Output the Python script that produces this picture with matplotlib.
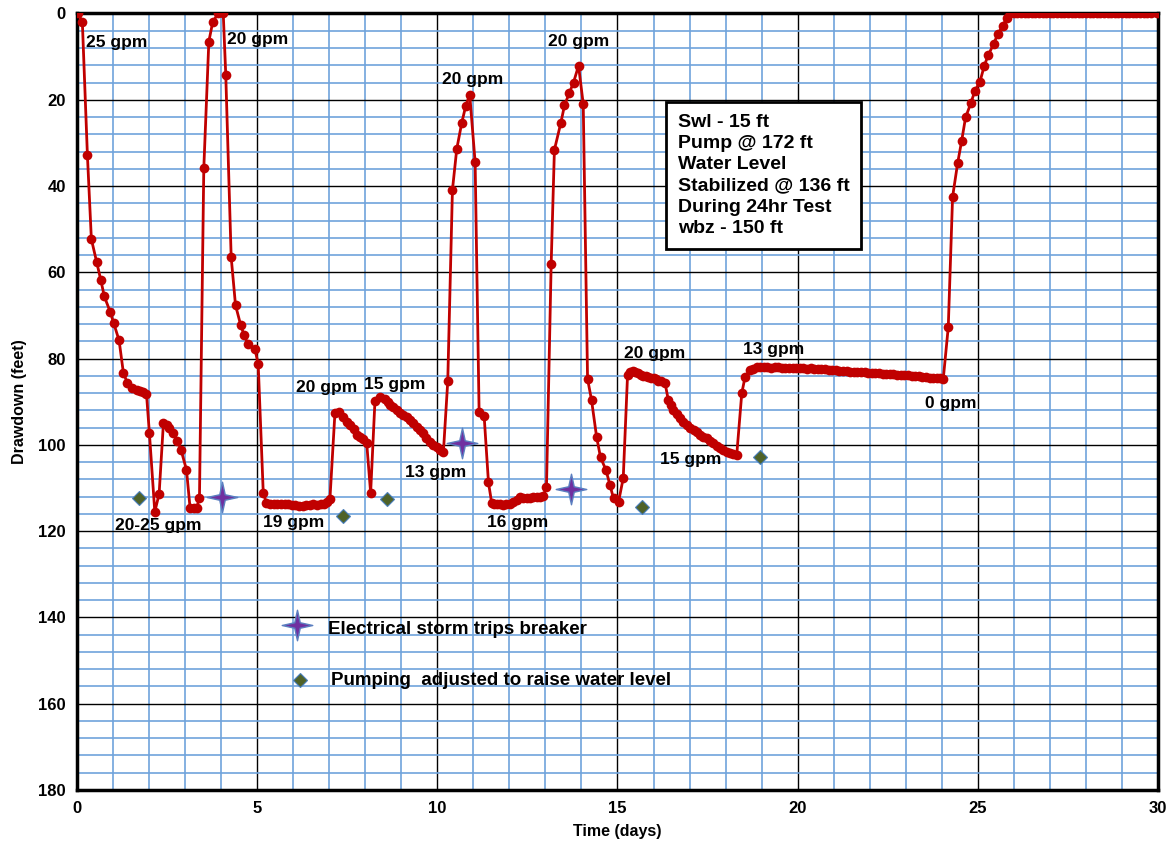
import numpy as np
import matplotlib
matplotlib.use("Agg")
import matplotlib.pyplot as plt
from matplotlib.path import Path
from matplotlib.ticker import MultipleLocator

plt.rcParams["font.family"] = ["Liberation Sans", "DejaVu Sans"]
plt.rcParams["font.weight"] = "bold"

# --- drawdown record (days, feet below start) ---
days = [0.04, 0.15, 0.29, 0.40, 0.55, 0.66, 0.76, 0.92, 1.02, 1.17, 1.29, 1.40,
        1.52, 1.66, 1.75, 1.84, 1.93, 2.01, 2.16, 2.28, 2.40, 2.49, 2.56, 2.66,
        2.79, 2.89, 3.04, 3.14, 3.25, 3.32, 3.40, 3.52, 3.66, 3.77, 3.92, 4.06,
        4.13, 4.28, 4.40, 4.54, 4.64, 4.75, 4.94, 5.03, 5.17,
        5.26, 5.36, 5.46, 5.56, 5.66, 5.76, 5.86, 5.96, 6.06, 6.16, 6.26, 6.36,
        6.46, 6.56, 6.66, 6.76, 6.86, 6.94, 7.02,
        7.16, 7.28, 7.39, 7.49, 7.58, 7.69, 7.76, 7.85, 7.94, 8.04, 8.15, 8.27,
        8.41, 8.55, 8.62, 8.69, 8.78, 8.87, 8.96, 9.06, 9.15, 9.24, 9.33, 9.43,
        9.52, 9.61, 9.70, 9.80, 9.89, 9.98, 10.08, 10.17,
        10.29, 10.42, 10.54, 10.68, 10.79, 10.90, 11.05, 11.16, 11.30, 11.42,
        11.51, 11.58, 11.65, 11.74, 11.83, 11.92, 12.02, 12.11, 12.20, 12.30,
        12.39, 12.48, 12.57, 12.66, 12.76, 12.85, 12.94, 13.03,
        13.16, 13.25, 13.43, 13.53, 13.66, 13.78, 13.92, 14.05, 14.17, 14.28,
        14.42, 14.53, 14.68, 14.79, 14.89, 15.03, 15.16, 15.28, 15.35, 15.42,
        15.50, 15.58, 15.65, 15.72, 15.79, 15.86, 15.93, 16.00, 16.07, 16.13,
        16.22, 16.32, 16.41, 16.48, 16.55, 16.64, 16.74, 16.83, 16.92, 17.01,
        17.11, 17.20, 17.29, 17.38, 17.48, 17.57, 17.66, 17.75, 17.85, 17.94,
        18.03, 18.12, 18.22, 18.31, 18.45, 18.54, 18.68, 18.77, 18.86,
        18.96, 19.06, 19.16, 19.26, 19.36, 19.46, 19.56, 19.66, 19.76, 19.86,
        19.96, 20.06, 20.16, 20.26, 20.36, 20.46, 20.56, 20.66, 20.76, 20.86,
        20.96, 21.06, 21.16, 21.26, 21.36, 21.46, 21.56, 21.66, 21.76, 21.86,
        21.96, 22.06, 22.16, 22.26, 22.36, 22.46, 22.56, 22.66, 22.76, 22.86,
        22.96, 23.06, 23.16, 23.26, 23.36, 23.46, 23.56, 23.66, 23.76, 23.86,
        23.96, 24.04,
        24.18, 24.30, 24.44, 24.55, 24.66, 24.81, 24.92, 25.06, 25.18, 25.29,
        25.44, 25.55, 25.69, 25.80, 25.90,
        26.00, 26.10, 26.20, 26.30, 26.40, 26.50, 26.60, 26.70, 26.80, 26.90,
        27.00, 27.10, 27.20, 27.30, 27.40, 27.50, 27.60, 27.70, 27.80, 27.90,
        28.00, 28.10, 28.20, 28.30, 28.40, 28.50, 28.60, 28.70, 28.80, 28.90,
        29.00, 29.10, 29.20, 29.30, 29.40, 29.50, 29.60, 29.70, 29.80, 29.97]

drawdown = [0.0, 2.0, 32.8, 52.3, 57.7, 61.7, 65.6, 69.1, 71.8, 75.8, 83.4, 85.6,
            86.9, 87.3, 87.4, 87.7, 88.2, 97.2, 115.5, 111.4, 94.9, 95.4, 96.2, 97.3,
            99.0, 101.2, 105.8, 114.7, 114.7, 114.7, 112.2, 35.9, 6.5, 1.9, 0.0, 0.0,
            14.3, 56.5, 67.6, 72.1, 74.6, 76.7, 77.8, 81.3, 111.1,
            113.5, 113.7, 113.7, 113.8, 113.8, 113.8, 113.8, 113.9, 114.0, 114.1, 114.1, 114.0,
            113.9, 113.8, 113.9, 113.7, 113.6, 113.3, 112.6,
            92.5, 92.3, 93.5, 94.6, 95.4, 96.3, 97.7, 98.1, 98.7, 99.5, 111.1, 89.8,
            88.8, 89.4, 90.1, 90.8, 91.3, 91.9, 92.5, 93.1, 93.6, 94.2, 95.0, 95.8,
            96.5, 97.3, 98.3, 99.3, 100.0, 100.6, 101.1, 101.6,
            85.3, 40.9, 31.4, 25.3, 21.4, 18.8, 34.5, 92.3, 93.3, 108.7,
            113.5, 113.6, 113.7, 113.8, 113.9, 113.8, 113.7, 113.2, 112.8, 112.0,
            112.2, 112.4, 112.2, 112.0, 112.1, 112.1, 111.8, 109.8,
            58.1, 31.6, 25.3, 21.3, 18.5, 16.0, 12.1, 21.0, 84.7, 89.6,
            98.1, 102.9, 105.8, 109.3, 112.4, 113.2, 107.7, 83.8, 83.2, 82.8,
            83.1, 83.4, 83.7, 84.0, 84.1, 84.3, 84.4, 84.6, 84.8, 85.1,
            85.3, 85.6, 89.6, 90.8, 91.9, 92.9, 93.8, 94.6, 95.4, 96.0,
            96.5, 97.1, 97.7, 98.1, 98.5, 99.0, 99.6, 100.2, 100.8, 101.2,
            101.6, 101.9, 102.1, 102.3, 88.0, 84.3, 82.6, 82.3, 82.0,
            82.0, 82.0, 82.0, 82.1, 82.0, 82.0, 82.1, 82.1, 82.2, 82.1,
            82.2, 82.2, 82.2, 82.3, 82.2, 82.3, 82.4, 82.4, 82.5, 82.6,
            82.6, 82.7, 82.8, 82.8, 82.9, 83.0, 83.1, 83.1, 83.2, 83.2,
            83.3, 83.3, 83.4, 83.4, 83.5, 83.5, 83.6, 83.6, 83.7, 83.7,
            83.8, 83.8, 84.0, 84.1, 84.0, 84.2, 84.3, 84.4, 84.5, 84.5,
            84.6, 84.8,
            72.7, 42.5, 34.7, 29.6, 24.1, 20.7, 17.9, 15.8, 12.1, 9.6,
            7.1, 4.8, 2.9, 1.1, 0.0,
            0.0, 0.0, 0.0, 0.0, 0.0, 0.0, 0.0, 0.0, 0.0, 0.0,
            0.0, 0.0, 0.0, 0.0, 0.0, 0.0, 0.0, 0.0, 0.0, 0.0,
            0.0, 0.0, 0.0, 0.0, 0.0, 0.0, 0.0, 0.0, 0.0, 0.0,
            0.0, 0.0, 0.0, 0.0, 0.0, 0.0, 0.0, 0.0, 0.0, 0.0]

# events
storm_days = [4.02, 10.68, 13.71]
storm_dd = [112.1, 99.6, 110.2]
adjust_days = [1.73, 7.37, 8.61, 15.67, 18.96]
adjust_dd = [112.4, 116.6, 112.6, 114.3, 102.9]

# pumping rate notes
rate_text = ["25 gpm", "20 gpm", "20 gpm", "20 gpm", "20 gpm", "15 gpm", "13 gpm",
             "16 gpm", "19 gpm", "20-25 gpm", "20 gpm", "15 gpm", "13 gpm", "0 gpm"]
rate_x = [1.11, 5.02, 10.99, 13.91, 6.94, 8.83, 9.94, 12.24, 6.02, 2.25, 16.04, 17.04, 19.32, 24.26]
rate_y = [6.8, 6.1, 15.2, 6.6, 86.6, 86.1, 106.5, 118.1, 118.1, 118.6, 78.9, 103.3, 78.0, 90.5]

info = "Swl - 15 ft\nPump @ 172 ft\nWater Level\nStabilized @ 136 ft\nDuring 24hr Test\nwbz - 150 ft"

star = Path([(0, 1), (0.18, 0.18), (1, 0), (0.18, -0.18), (0, -1),
             (-0.18, -0.18), (-1, 0), (-0.18, 0.18), (0, 1)],
            [Path.MOVETO] + [Path.LINETO] * 7 + [Path.CLOSEPOLY])

fig = plt.figure(figsize=(11.73, 8.49), dpi=100)
ax = fig.add_axes([0.0656, 0.0695, 0.9216, 0.9146])

ax.set_xlim(0, 30)
ax.set_ylim(180, 0)
ax.xaxis.set_major_locator(MultipleLocator(5))
ax.xaxis.set_minor_locator(MultipleLocator(1))
ax.yaxis.set_major_locator(MultipleLocator(20))
ax.yaxis.set_minor_locator(MultipleLocator(4))
ax.grid(which="minor", color="#6fa3dc", linewidth=1.2)
ax.grid(which="major", color="black", linewidth=1.0)
ax.set_axisbelow(True)
ax.tick_params(which="both", length=0, labelsize=12, pad=8)
for sp in ax.spines.values():
    sp.set_linewidth(2.5)

ax.plot(days, drawdown, color="#c00000", linewidth=2.0, marker="o",
        markersize=7, markeredgewidth=0, zorder=3)
ax.plot(storm_days, storm_dd, linestyle="none", marker=star, markersize=22,
        markerfacecolor="#7030a0", markeredgecolor="#5b7fc0", markeredgewidth=1.0, zorder=4)
ax.plot(adjust_days, adjust_dd, linestyle="none", marker="D", markersize=7.5,
        markerfacecolor="#4f6228", markeredgecolor="#4a7ebb", markeredgewidth=0.8, zorder=4)

for t, x, y in zip(rate_text, rate_x, rate_y):
    ax.text(x, y, t, fontsize=12.5, fontweight="bold", ha="center", va="center", zorder=5)

ax.text(16.68, 23.2, info, fontsize=14, fontweight="bold", va="top", ha="left",
        linespacing=1.33, zorder=5,
        bbox=dict(boxstyle="square,pad=0.6", facecolor="white", edgecolor="black", linewidth=2))

# event key
ax.plot([6.11], [141.8], linestyle="none", marker=star, markersize=22,
        markerfacecolor="#7030a0", markeredgecolor="#5b7fc0", markeredgewidth=1.0)
ax.text(6.97, 142.9, "Electrical storm trips breaker", fontsize=13.5, fontweight="bold",
        va="center", ha="left")
ax.plot([6.19], [154.5], linestyle="none", marker="D", markersize=7.5,
        markerfacecolor="#4f6228", markeredgecolor="#4a7ebb", markeredgewidth=0.8)
ax.text(7.05, 154.7, "Pumping  adjusted to raise water level", fontsize=13.5, fontweight="bold",
        va="center", ha="left")

ax.set_xlabel("Time (days)", fontsize=11.5, fontweight="bold", labelpad=6)
ax.set_ylabel("Drawdown (feet)", fontsize=11.5, fontweight="bold", labelpad=8)
for lab in ax.get_xticklabels() + ax.get_yticklabels():
    lab.set_fontweight("bold")

fig.savefig("out.png", dpi=100)
